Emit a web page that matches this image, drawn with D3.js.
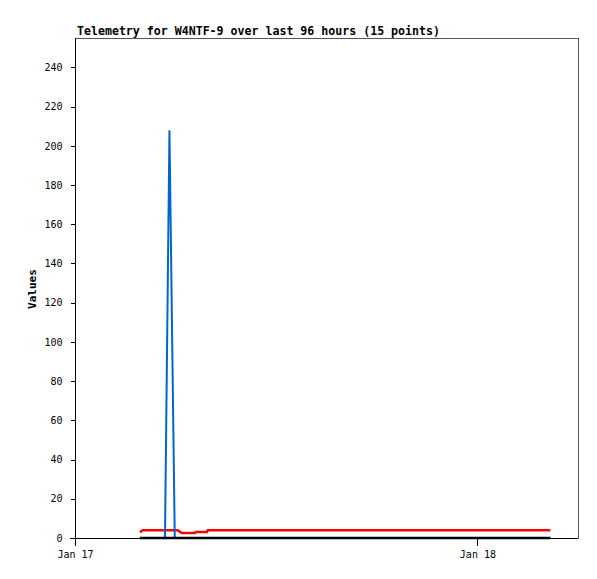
<!DOCTYPE html>
<html>
<head>
<meta charset="utf-8">
<script src="https://cdn.jsdelivr.net/npm/d3@7"></script>
<style>
  html, body { margin: 0; padding: 0; background: #fff; }
  svg { display: block; }
</style>
</head>
<body>
<svg id="chart" width="597" height="579"></svg>
<script>
// ---- data ----
const titleText = "Telemetry for W4NTF-9 over last 96 hours (15 points)";
const yLabel = "Values";
const times = [
  "2024-01-17T03:52Z", "2024-01-17T04:03Z", "2024-01-17T05:22Z", "2024-01-17T05:38Z",
  "2024-01-17T05:57Z", "2024-01-17T06:08Z", "2024-01-17T06:22Z", "2024-01-17T07:09Z",
  "2024-01-17T07:12Z", "2024-01-17T07:52Z", "2024-01-17T07:55Z", "2024-01-17T12:00Z",
  "2024-01-17T18:00Z", "2024-01-18T00:00Z", "2024-01-18T04:21Z"
];
const seriesRed   = [3, 4, 4, 4, 4, 4, 2.5, 2.5, 3, 3, 4, 4, 4, 4, 4];
const seriesBlue  = [0, 0, 0, 208, 0, 0, 0, 0, 0, 0, 0, 0, 0, 0, 0];
const seriesBlack = [0, 0, 0, 0, 0, 0, 0, 0, 0, 0, 0, 0, 0, 0, 0];
const yTicks = [0, 20, 40, 60, 80, 100, 120, 140, 160, 180, 200, 220, 240];
const xDomain = ["2024-01-17T00:00Z", "2024-01-18T06:00Z"];
const yDomain = [0, 255];

// ---- chart ----
(function () {
const svg = d3.select("#chart");
const L = 75, R = 578, T = 38, B = 538;
const parse = s => new Date(s);
const x = d3.scaleUtc().domain(xDomain.map(parse)).range([L, R]);
const y = d3.scaleLinear().domain(yDomain).range([B, T]);
const mono = "'DejaVu Sans Mono', 'Liberation Mono', monospace";

// frame (top / right)
svg.append("path")
  .attr("d", `M${L},${T + 0.5}H${R + 0.5}V${B}`)
  .attr("fill", "none").attr("stroke", "#555").attr("stroke-width", 1)
  .attr("shape-rendering", "crispEdges");

// title
svg.append("text").attr("x", 77).attr("y", 35)
  .attr("font-family", mono).attr("font-weight", "bold").attr("font-size", 11.6)
  .attr("fill", "#000").text(titleText);

// y axis
const yAxis = d3.axisLeft(y).tickValues(yTicks).tickSize(5).tickPadding(8).tickFormat(d3.format("d"));
const gy = svg.append("g").attr("transform", `translate(${L + 0.5},0)`).call(yAxis);
gy.select(".domain").remove();
gy.append("line").attr("x1", 0).attr("x2", 0).attr("y1", T).attr("y2", B + 0.5)
  .attr("stroke", "#000");
gy.selectAll(".tick line").attr("stroke", "#000").attr("shape-rendering", "crispEdges");
gy.selectAll(".tick text").attr("font-family", mono).attr("font-size", 10).attr("fill", "#000");

// x axis
const xAxis = d3.axisBottom(x).ticks(d3.utcDay.every(1)).tickSize(7).tickPadding(5)
  .tickFormat(d3.utcFormat("%b %d"));
const gx = svg.append("g").attr("transform", `translate(0,${B + 0.5})`).call(xAxis);
gx.select(".domain").remove();
gx.append("line").attr("x1", L - 5).attr("x2", R + 0.5).attr("y1", 0).attr("y2", 0)
  .attr("stroke", "#000");
gx.selectAll(".tick line").attr("stroke", "#000").attr("shape-rendering", "crispEdges");
gx.selectAll(".tick text").attr("font-family", mono).attr("font-size", 10).attr("fill", "#000");

// y label
svg.append("text").attr("transform", "translate(36,289) rotate(-90)")
  .attr("text-anchor", "middle")
  .attr("font-family", mono).attr("font-weight", "bold").attr("font-size", 11)
  .attr("fill", "#000").text(yLabel);

// series
const pts = times.map(parse);
const line = d3.line().x((d, i) => x(pts[i])).y(d => y(d));
const series = [
  { values: seriesRed, color: "#ff0000", width: 2.5 },
  { values: seriesBlue, color: "#0066cc", width: 2 },
  { values: seriesBlack, color: "#000000", width: 2.5 }
];
series.forEach(s => {
  svg.append("path").datum(s.values)
    .attr("d", line)
    .attr("fill", "none")
    .attr("stroke", s.color)
    .attr("stroke-width", s.width)
    .attr("stroke-linejoin", "miter");
});
})();
</script>
</body>
</html>
